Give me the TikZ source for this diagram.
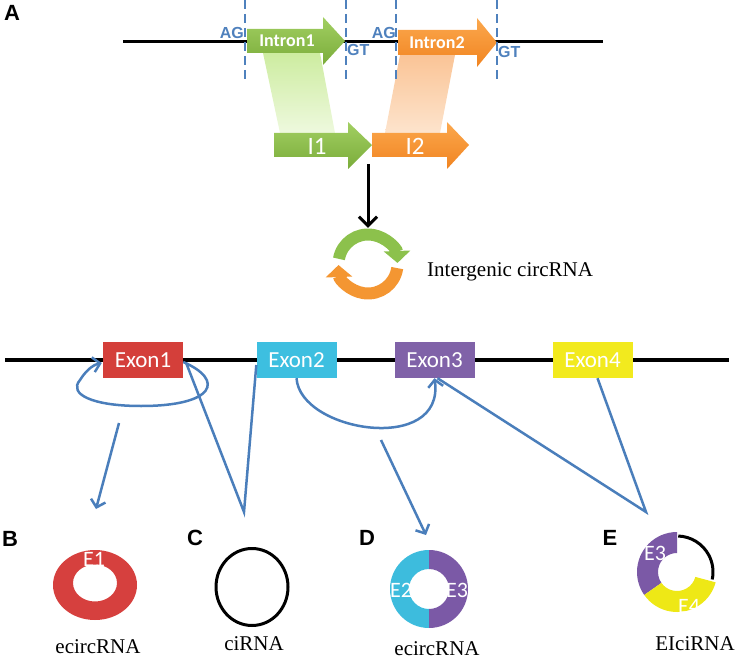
\documentclass[tikz,border=0pt]{standalone}
\usepackage{fontspec}
\setmainfont{Liberation Serif}
\newfontfamily\carl{Carlito}
\newfontfamily\arl{Liberation Sans}
\usetikzlibrary{arrows.meta,calc}
\definecolor{lblue}{RGB}{74,126,187}
\definecolor{sigblue}{RGB}{79,129,189}
\definecolor{gtop}{RGB}{162,207,98}
\definecolor{gbot}{RGB}{122,172,58}
\definecolor{otop}{RGB}{251,168,78}
\definecolor{obot}{RGB}{241,132,32}
\definecolor{gpale}{RGB}{205,236,160}
\definecolor{gpale2}{RGB}{238,249,222}
\definecolor{opale}{RGB}{250,196,150}
\definecolor{opale2}{RGB}{253,228,205}
\definecolor{ringgreen}{RGB}{140,193,76}
\definecolor{ringorange}{RGB}{244,150,50}
\definecolor{exred}{RGB}{212,63,58}
\definecolor{excyan}{RGB}{61,191,224}
\definecolor{expurple}{RGB}{128,98,168}
\definecolor{exyellow}{RGB}{242,234,30}
\definecolor{ringred}{RGB}{214,64,62}
\definecolor{rcyan}{RGB}{61,188,221}
\definecolor{rpurple}{RGB}{123,89,166}
\definecolor{ryellow}{RGB}{238,232,22}
\begin{document}
\begin{tikzpicture}[x=1pt,y=1pt,
  conn/.style={draw=lblue,line width=2.5pt},
  barb/.style={-{Straight Barb[length=7pt,width=15pt]}},
  exon/.style={minimum width=80pt,minimum height=36pt,inner sep=0pt,text=white,font=\carl\fontsize{23}{23}\selectfont},
  sig/.style={text=sigblue,font=\arl\bfseries\fontsize{16}{16}\selectfont,inner sep=0pt},
  panel/.style={font=\arl\bfseries\fontsize{22}{22}\selectfont,inner sep=0pt},
  capt/.style={font=\fontsize{21}{21}\selectfont,inner sep=0pt},
  ringlab/.style={text=white,font=\carl\fontsize{22}{22}\selectfont,inner sep=0pt},
  arrlab/.style={text=white,font=\carl\fontsize{25}{25}\selectfont,inner sep=0pt},
  intlab/.style={text=white,font=\carl\bfseries\fontsize{18}{18}\selectfont,inner sep=0pt},
  sdash/.style={sigblue,line width=2pt,dash pattern=on 9pt off 5pt}]
\useasboundingbox (0,0) rectangle (738,-660);

% ---------- Panel A ----------
\node[panel] (lA) at (12,-13) {A};
\draw[line width=3pt] (123,-42) -- (603,-42);

% projection bands
\shade[top color=gpale,bottom color=gpale2] (263,-53) -- (320,-53) -- (335,-133) -- (280,-133) -- cycle;
\shade[top color=opale,bottom color=opale2] (400,-55) -- (455,-55) -- (440,-133) -- (385,-133) -- cycle;

% intron arrows
\shade[top color=gtop,bottom color=gbot] (247,-29) -- (323,-29) -- (323,-17) -- (345,-41) -- (323,-65) -- (323,-53) -- (247,-53) -- cycle;
\shade[top color=otop,bottom color=obot] (398,-30) -- (477,-30) -- (477,-18) -- (497,-42.5) -- (477,-67) -- (477,-55) -- (398,-55) -- cycle;
\node[intlab] (int1) at (287,-41) {Intron1};
\node[intlab] (int2) at (437,-42.5) {Intron2};

\shade[top color=otop,bottom color=obot] (372,-133) -- (447,-133) -- (447,-122) -- (469,-145) -- (447,-169) -- (447,-157) -- (372,-157) -- cycle;
\shade[top color=gtop,bottom color=gbot] (274,-133) -- (348,-133) -- (348,-122) -- (372,-145) -- (348,-169) -- (348,-157) -- (274,-157) -- cycle;
\node[arrlab] (i1) at (317,-146) {I1};
\node[arrlab] (i2) at (415,-146) {I2};

% splice-site dashed lines
\draw[sdash] (245,0) -- (245,-83);
\draw[sdash] (346,0) -- (346,-83);
\draw[sdash] (396,0) -- (396,-83);
\draw[sdash] (497,0) -- (497,-83);
\node[sig,anchor=east] (ag1) at (244,-33) {AG};
\node[sig,anchor=west] (gt1) at (347,-50) {GT};
\node[sig,anchor=east] (ag2) at (396,-33) {AG};
\node[sig,anchor=west] (gt2) at (498,-52) {GT};

% circularisation
\coordinate (jn) at (368,-164);
\node[circle,minimum size=72pt,inner sep=0pt] (circ) at (368,-264) {};
\draw[line width=3pt,-{Straight Barb[length=9pt,width=18pt]}] (jn) -- (circ.north);
\draw[ringgreen,line width=12pt,-{Triangle[length=12pt,width=26pt]}] ([shift={(170:29.5)}]circ.center) arc[start angle=170,end angle=2,radius=29.5];
\draw[ringorange,line width=12pt,-{Triangle[length=12pt,width=26pt]}] ([shift={(-8:29.5)}]circ.center) arc[start angle=-8,end angle=-178,radius=29.5];
\node[capt,anchor=west] (intg) at (427,-272) {Intergenic circRNA};

% ---------- Exon row ----------
\draw[line width=4pt] (5,-360) -- (729,-360);
\node[exon,fill=exred] (ex1) at (143,-360) {Exon1};
\node[exon,fill=excyan] (ex2) at (296.5,-360) {Exon2};
\node[exon,fill=expurple] (ex3) at (434.5,-360) {Exon3};
\node[exon,fill=exyellow] (ex4) at (592.5,-360) {Exon4};

\coordinate (bS) at (119,-423);
\coordinate (bT) at (96,-509);
\coordinate (vC) at (244,-512);
\coordinate (dS) at (381,-440);
\coordinate (dT) at (426,-535);
\coordinate (vE) at (646,-512);

\draw[conn,barb] ([yshift=-2pt]ex1.east) .. controls (225,-380) and (215,-406) .. (141,-406)
   .. controls (92,-406) and (68,-394) .. (80,-380)
   .. controls (85,-372) and (92,-365) .. ([shift={(-1pt,-3pt)}]ex1.west);
\draw[conn] ([shift={(3pt,-3pt)}]ex1.east) -- (vC) -- ([yshift=-5pt]ex2.west);
\draw[conn,barb] (bS) -- (bT);
\draw[conn,barb] (ex2.south) .. controls (300,-432) and (445,-455) .. (ex3.south);
\draw[conn,barb] (dS) -- (dT);
\draw[conn] ([xshift=3pt]ex3.south) -- (vE) -- ([xshift=5pt]ex4.south);

% ---------- Panels B-E ----------
\node[panel] (lB) at (10,-539) {B};
\node[panel] (lC) at (195,-538) {C};
\node[panel] (lD) at (367,-538) {D};
\node[panel] (lE) at (610,-538) {E};

% B
\coordinate (cB) at (95,-585);
\fill[ringred,even odd rule] (cB) ellipse[x radius=42,y radius=35] (95,-583) ellipse[x radius=22,y radius=18.5];
\node[ringlab] (e1) at (94,-559) {E1};
\node[capt] (capB) at (98,-647) {ecircRNA};

% C
\coordinate (cC) at (252,-587);
\draw[line width=3pt] (cC) ellipse[x radius=36,y radius=38.5];
\node[capt] (capC) at (254,-644) {ciRNA};

% D
\coordinate (cD) at (429,-589);
\fill[rcyan] ([shift={(90:39)}]cD) arc[start angle=90,end angle=270,radius=39] -- ([shift={(270:20)}]cD) arc[start angle=270,end angle=90,radius=20] -- cycle;
\fill[rpurple] ([shift={(90:39)}]cD) arc[start angle=90,end angle=-90,radius=39] -- ([shift={(-90:20)}]cD) arc[start angle=-90,end angle=90,radius=20] -- cycle;
\node[ringlab] (e2) at (401,-590) {E2};
\node[ringlab] (e3d) at (457,-590) {E3};
\node[capt] (capD) at (437,-649) {ecircRNA};

% E
\coordinate (cE) at (677,-572);
\fill[rpurple] ([shift={(90:40)}]cE) arc[start angle=90,end angle=215,radius=40] -- ([shift={(215:19)}]cE) arc[start angle=215,end angle=90,radius=19] -- cycle;
\fill[ryellow] ([shift={(215:40)}]cE) arc[start angle=215,end angle=345,radius=40] -- ([shift={(345:19)}]cE) arc[start angle=345,end angle=215,radius=19] -- cycle;
\draw[line width=3pt] ([shift={(88:36)}]cE) arc[start angle=88,end angle=-12,radius=36];
\node[ringlab] (e3e) at (655,-553) {E3};
\node[ringlab] (e4) at (689,-606) {E4};
\node[capt] (capE) at (695,-644) {EIciRNA};
\end{tikzpicture}
\end{document}
